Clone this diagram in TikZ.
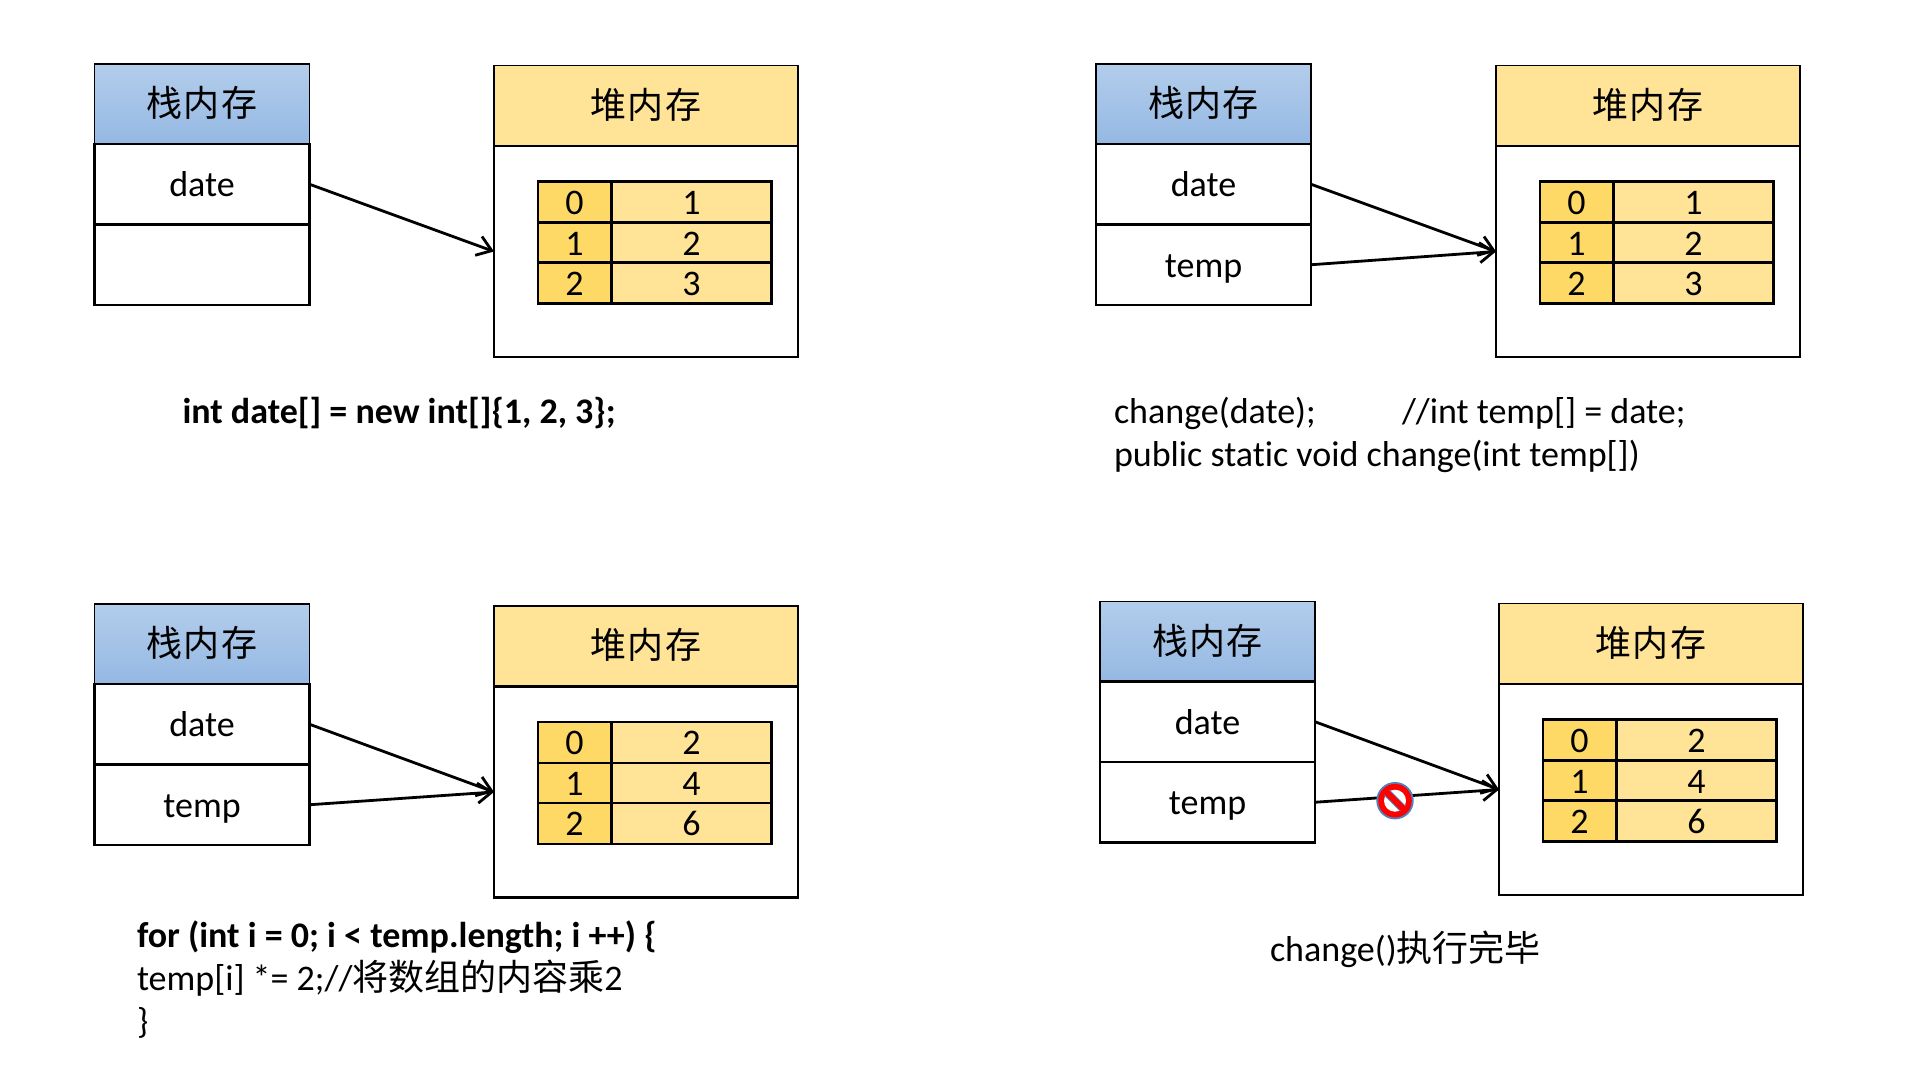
\documentclass[tikz,border=0pt]{standalone}
\usepackage{fontspec}
\setmainfont{Carlito}[Ligatures=CommonOff]
\newfontfamily\cjk{Noto Sans CJK SC}[LetterSpace=4]
\newfontfamily\cjktxt{Noto Sans CJK SC}
\newcommand{\bodysize}{\fontsize{18pt}{21.5pt}\selectfont}
\tikzset{
  x=0.5pt,y=-0.5pt,
  every node/.style={inner sep=0pt,outer sep=0pt,font=\bodysize},
  boxbase/.style={anchor=north west,draw=black,line width=1.2pt,text height=14pt,text depth=1.6pt},
  stackhead/.style={boxbase,line width=0.7pt,minimum width=107.5pt,minimum height=40.5pt,top color=stacktop,bottom color=stackbot,font=\bodysize\cjk},
  stackrow/.style={boxbase,minimum width=107.5pt,minimum height=40.25pt,fill=white},
  heaphead/.style={boxbase,line width=0.7pt,minimum width=152pt,minimum height=40.5pt,fill=heapfill,font=\bodysize\cjk},
  heapbody/.style={boxbase,minimum width=152pt,minimum height=105.5pt,fill=white},
  idxcell/.style={boxbase,line width=1.1pt,minimum width=36.5pt,minimum height=20.5pt,fill=idxfill},
  valcell/.style={boxbase,line width=1.1pt,minimum width=80pt,minimum height=20.5pt,fill=heapfill},
  link/.style={draw=black,line width=1.4pt,-{Straight Barb[length=7pt,width=10pt,line width=1.4pt]}},
  codetext/.style={anchor=west,align=left,text height=14pt,text depth=1.6pt},
}
\usetikzlibrary{arrows.meta}
\definecolor{stacktop}{HTML}{B3CDEB}
\definecolor{stackbot}{HTML}{94B8E3}
\definecolor{heapfill}{HTML}{FFE497}
\definecolor{idxfill}{HTML}{FFD966}
\definecolor{signblue}{HTML}{4F81BD}
% #1 prefix, #2 #3 stack origin, #4 #5 heap origin, #6 second row text, #7 #8 #9 values
\newcommand{\memorypanel}[9]{%
  \node[stackhead] (#1sh) at (#2,#3) {栈内存};
  \node[stackrow] (#1date) at (#2,#3+80) {date};
  \node[stackrow] (#1temp) at (#2,#3+160.5) {#6};
  \node[heaphead] (#1hh) at (#4,#5) {堆内存};
  \node[heapbody] (#1hb) at (#4,#5+80.5) {};
  \node[idxcell] (#1i0) at (#4+44,#5+116) {0};
  \node[valcell] (#1v0) at (#4+117.5,#5+116) {#7};
  \node[idxcell] (#1i1) at (#4+44,#5+157) {1};
  \node[valcell] (#1v1) at (#4+117.5,#5+157) {#8};
  \node[idxcell] (#1i2) at (#4+44,#5+197) {2};
  \node[valcell] (#1v2) at (#4+117.5,#5+197) {#9};
}
\begin{document}
\begin{tikzpicture}
\useasboundingbox (0,0) rectangle (1920,1080);
\fill[white] (0,0) rectangle (1920,1080);
\memorypanel{a}{94.5}{64}{494}{65.5}{}{1}{2}{3}
\memorypanel{b}{1096}{64}{1496}{65.5}{temp}{1}{2}{3}
\memorypanel{c}{94.5}{604}{494}{606}{temp}{2}{4}{6}
\memorypanel{d}{1100}{601.5}{1499}{603.5}{temp}{2}{4}{6}
\draw[link] (adate.east) -- (ahb.west);
\draw[link] (bdate.east) -- (bhb.west);
\draw[link] (btemp.east) -- (bhb.west);
\draw[link] (cdate.east) -- (chb.west);
\draw[link] (ctemp.east) -- (chb.west);
\draw[link] (ddate.east) -- (dhb.west);
\draw[link] (dtemp.east) -- (dhb.west);
% prohibition sign
\fill[signblue] (1395,800.7) circle[radius=18.7];
\fill[red] (1395,800.7) circle[radius=16.8];
\fill[white] (1395,800.7) circle[radius=11];
\draw[signblue,line width=4pt] (1387,792.7) -- (1403,808.7);
\draw[red,line width=3pt] (1384,789.7) -- (1406,811.7);
\node[codetext] (code1) at (182.5,411) {\textbf{int date[] = new int[]\{1, 2, 3\};}};
\node[codetext] (code2a) at (1114,411) {change(date);};
\node[codetext] (code2b) at (1402,411) {//int temp[] = date;};
\node[codetext] (code2c) at (1114,454) {public static void change(int temp[])};
\node[codetext] (code3a) at (137,935) {\textbf{for (int i = 0; i < temp.length; i ++) \{}};
\node[codetext] (code3b) at (137,978) {temp[i] *= 2;//{\cjktxt 将数组的内容乘}2};
\node[codetext] (code3c) at (137,1021) {\}};
\node[codetext] (code4) at (1270,949) {change(){\cjktxt 执行完毕}};
\end{tikzpicture}
\end{document}
